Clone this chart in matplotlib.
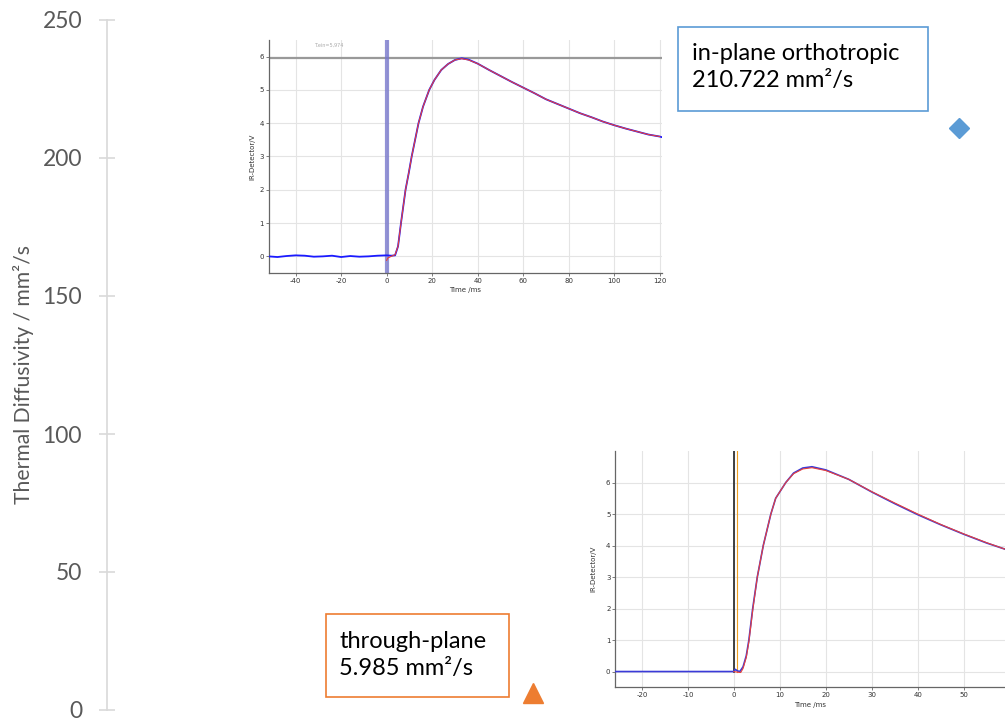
import matplotlib
matplotlib.use("Agg")
import matplotlib.pyplot as plt
from matplotlib.patches import Rectangle

# ---------------- data ----------------
categories = ["through-plane", "in-plane orthotropic"]
cat_x = [1, 2]
diffusivity = [5.985, 210.722]
box_labels = ["through-plane\n5.985 mm\u00b2/s", "in-plane orthotropic\n210.722 mm\u00b2/s"]
y_ticks = [0, 50, 100, 150, 200, 250]

in_t = [-52, -48, -44, -40, -36, -32, -28, -24, -20, -16, -12, -8, -4, 0, 2, 3.7, 5, 6.3, 7.3, 8.3,
        9.7, 11, 12.5, 14, 16, 18.7, 21, 24, 27, 30, 33, 36, 40, 45, 50, 55, 60, 65, 70, 75,
        80, 85, 90, 95, 100, 105, 110, 115, 120, 121]
in_v = [0.0, -0.02, 0.01, 0.03, 0.02, -0.01, 0.0, 0.02, -0.02, 0.01, -0.01, 0.0, 0.02, 0.03, 0.02, 0.03, 0.3, 1.0, 1.5, 2.0,
        2.5, 3.0, 3.5, 4.0, 4.5, 5.0, 5.3, 5.6, 5.78, 5.9, 5.95, 5.91, 5.79, 5.6, 5.42, 5.24, 5.07, 4.9, 4.72, 4.58,
        4.44, 4.3, 4.18, 4.05, 3.94, 3.84, 3.75, 3.66, 3.6, 3.58]
in_fit_t = [0, 0.5, 2, 3.7, 5, 6.3, 7.3, 8.3, 9.7, 11, 12.5, 14, 16, 18.7, 21, 24, 27, 30, 33, 36, 40, 45,
            50, 55, 60, 65, 70, 75, 80, 85, 90, 95, 100, 105, 110, 115, 120]
in_fit_v = [-0.12, -0.05, 0.0, 0.05, 0.3, 1.0, 1.5, 2.0, 2.5, 3.0, 3.5, 4.0, 4.5, 5.0, 5.3, 5.6, 5.78, 5.9, 5.94, 5.9,
            5.79, 5.6, 5.42, 5.24, 5.07, 4.9, 4.72, 4.58, 4.44, 4.3, 4.18, 4.05, 3.94, 3.84, 3.75, 3.66, 3.6]
in_level = 5.974
in_xticks = [-40, -20, 0, 20, 40, 60, 80, 100, 120]
in_yticks = [0, 1, 2, 3, 4, 5, 6]

tp_t = [-26, -20, -10, 0, 0.3, 0.8, 1.3, 2, 2.7, 3.27, 4.1, 5.1, 6.4, 8.05, 9.1, 11.3, 13, 15, 17, 20,
        25, 30, 35, 40, 45, 50, 55, 59.5]
tp_v = [0.0, 0.0, 0.0, 0.0, 0.07, 0.02, 0.0, 0.15, 0.5, 1.0, 2.0, 3.0, 4.0, 5.0, 5.5, 6.0, 6.3, 6.46, 6.5, 6.4,
        6.1, 5.7, 5.33, 4.98, 4.66, 4.36, 4.08, 3.86]
tp_fit_t = [0, 0.8, 1.5, 2, 2.7, 3.27, 4.1, 5.1, 6.4, 8.05, 9.1, 11.3, 13, 15, 17, 20,
            25, 30, 35, 40, 45, 50, 55, 59.5]
tp_fit_v = [0.0, -0.02, -0.03, 0.1, 0.45, 0.95, 1.95, 3.0, 4.0, 5.0, 5.5, 6.0, 6.28, 6.43, 6.47, 6.38,
            6.1, 5.71, 5.35, 5.0, 4.67, 4.37, 4.09, 3.86]
tp_xticks = [-20, -10, 0, 10, 20, 30, 40, 50]
tp_yticks = [0, 1, 2, 3, 4, 5, 6]

# ---------------- figure ----------------
plt.rcParams['font.family'] = ['Lato', 'DejaVu Sans']
plt.rcParams['axes.unicode_minus'] = False
fig = plt.figure(figsize=(10.05, 7.2), dpi=100)

W, H = 1005.0, 720.0
def fx(px):
    return px / W
def fy(py):
    return 1 - py / H

ax = fig.add_axes([fx(107), fy(710), fx(1005) - fx(107), fy(20) - fy(710)])
ax.set_ylim(0, 250)
ax.set_xlim(0, 898 / 426)
for s in ['top', 'right', 'bottom']:
    ax.spines[s].set_visible(False)
ax.spines['left'].set_color('#d9d9d9')
ax.spines['left'].set_linewidth(1.2)
ax.set_xticks([])
ax.set_yticks(y_ticks)
ax.tick_params(axis='y', direction='inout', length=11, width=1.2, color='#d9d9d9',
               labelcolor='#595959', labelsize=16.5, pad=12.5)
ax.patch.set_alpha(0)

ax.plot(cat_x[0], diffusivity[0], marker='^', ms=14, color='#ed7d31', ls='none', clip_on=False, zorder=5)
ax.plot(cat_x[1], diffusivity[1], marker='D', ms=10.5, color='#5b9bd5', ls='none', clip_on=False, zorder=5)

fig.text(fx(23), fy(375), "Thermal Diffusivity / mm\u00b2/s", rotation=90, ha='center', va='center',
         fontsize=15.2, color='#595959')

# text boxes
fig.patches.append(Rectangle((fx(326), fy(697)), fx(509) - fx(326), fy(614) - fy(697),
                             transform=fig.transFigure, fill=False, ec='#ed7d31', lw=1.2))
fig.text(fx(339), fy(655), box_labels[0], ha='left', va='center', fontsize=17,
         color='black', linespacing=1.3)
fig.patches.append(Rectangle((fx(678), fy(111)), fx(928) - fx(678), fy(27) - fy(111),
                             transform=fig.transFigure, fill=False, ec='#5b9bd5', lw=1.2))
fig.text(fx(692), fy(67), box_labels[1], ha='left', va='center', fontsize=17,
         color='black', linespacing=1.3)

# ---------------- inset 1 ----------------
a1 = fig.add_axes([fx(269), fy(273), fx(662) - fx(269), fy(40) - fy(273)])
a1.set_xlim(-51.7, 121)
a1.set_ylim(-0.5, 6.5)
a1.set_xticks(in_xticks)
a1.set_yticks(in_yticks)
a1.grid(True, color='#e4e4e4', lw=0.8)
a1.set_axisbelow(True)
for s in ['top', 'right']:
    a1.spines[s].set_visible(False)
for s in ['left', 'bottom']:
    a1.spines[s].set_color('#666666')
    a1.spines[s].set_linewidth(0.9)
a1.tick_params(labelsize=5, length=2, width=0.6, color='#666666', labelcolor='#333333', pad=1.5)
a1.set_xlabel("Time /ms", fontsize=5, color='#333333', labelpad=2, family=['DejaVu Sans'])
a1.set_ylabel("IR-Detector/V", fontsize=5, color='#333333', labelpad=3, family=['DejaVu Sans'])
for lab in a1.get_xticklabels() + a1.get_yticklabels():
    lab.set_family(['DejaVu Sans'])
a1.axhline(in_level, color='#999999', lw=1.6, zorder=2)
a1.axvline(0.3, color='#7777cc', lw=3, alpha=0.8, zorder=2)
a1.plot(in_t, in_v, color='#1a1aff', lw=1.3, zorder=3)
a1.plot(in_fit_t, in_fit_v, color='#e8403a', lw=0.8, zorder=4)
a1.text(-32, 6.3, "T.ein=5,974", fontsize=3.5, color='#aaaaaa', family=['DejaVu Sans'])

# ---------------- inset 2 ----------------
a2 = fig.add_axes([fx(615.3), fy(687.3), fx(1005) - fx(615.3), fy(451) - fy(687.3)])
a2.set_xlim(-25.8, 59.0)
a2.set_ylim(-0.5, 7.0)
a2.set_xticks(tp_xticks)
a2.set_yticks(tp_yticks)
a2.grid(True, color='#e4e4e4', lw=0.8)
a2.set_axisbelow(True)
for s in ['top', 'right']:
    a2.spines[s].set_visible(False)
for s in ['left', 'bottom']:
    a2.spines[s].set_color('#666666')
    a2.spines[s].set_linewidth(0.9)
a2.tick_params(labelsize=5, length=2, width=0.6, color='#666666', labelcolor='#333333', pad=1.5)
a2.set_xlabel("Time /ms", fontsize=5, color='#333333', labelpad=3, family=['DejaVu Sans'])
a2.set_ylabel("IR-Detector/V", fontsize=5, color='#333333', labelpad=7, family=['DejaVu Sans'])
for lab in a2.get_xticklabels() + a2.get_yticklabels():
    lab.set_family(['DejaVu Sans'])
a2.plot([0, 0], [0, 7.0], color='#222222', lw=1.2, zorder=3)
a2.plot([0.6, 0.6], [0, 7.0], color='#f0a020', lw=0.8, zorder=3)
a2.plot(tp_t, tp_v, color='#3a3ad8', lw=1.2, zorder=4)
a2.plot(tp_fit_t, tp_fit_v, color='#e8403a', lw=0.8, zorder=5)

fig.savefig("out.png", dpi=100, facecolor='white')
